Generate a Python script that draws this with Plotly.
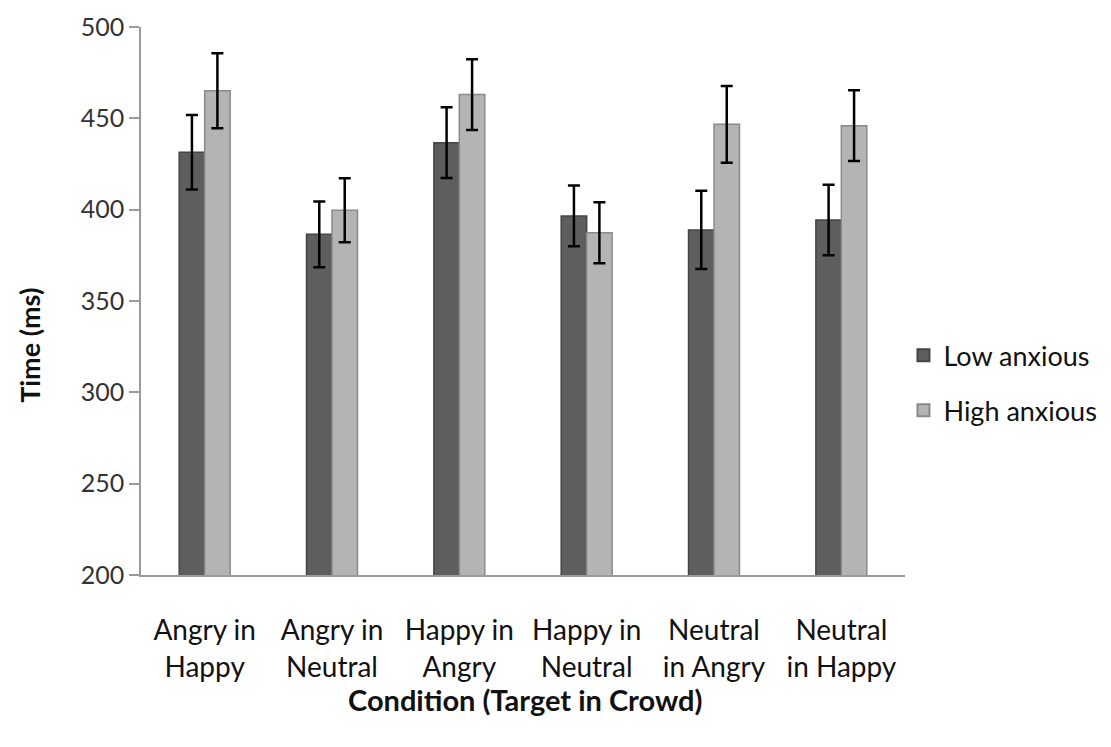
import plotly.graph_objects as go

categories = ["Angry in<br>Happy", "Angry in<br>Neutral", "Happy in<br>Angry",
              "Happy in<br>Neutral", "Neutral<br>in Angry", "Neutral<br>in Happy"]
low_anxious = [431.4, 386.5, 436.7, 396.6, 388.9, 394.4]
low_err = [20.4, 18.0, 19.4, 16.6, 21.4, 19.3]
high_anxious = [465.1, 399.7, 463.0, 387.4, 446.7, 446.0]
high_err = [20.5, 17.5, 19.4, 16.7, 21.0, 19.4]
y_ticks = [200, 250, 300, 350, 400, 450, 500]

FONT = "Lato, Open Sans, sans-serif"

fig = go.Figure()
fig.add_trace(go.Bar(
    name="Low anxious", x=categories, y=low_anxious, legendgroup="low",
    marker=dict(color="#5e5e5e", line=dict(color="#454545", width=1.5)),
    error_y=dict(type="data", array=low_err, color="#000000", thickness=2.5, width=6),
))
fig.add_trace(go.Bar(
    name="High anxious", x=categories, y=high_anxious, legendgroup="high",
    marker=dict(color="#b4b4b4", line=dict(color="#8a8a8a", width=1.5)),
    error_y=dict(type="data", array=high_err, color="#000000", thickness=2.5, width=6),
))

fig.update_layout(
    width=1095, height=731,
    margin=dict(l=133, r=198, t=19, b=164, autoexpand=False),
    paper_bgcolor="white", plot_bgcolor="white",
    barmode="group", bargap=0.6, bargroupgap=0,
    font=dict(family=FONT, size=22, color="#222222"),
    legend=dict(x=0.998, y=0.35, xanchor="left", yanchor="middle",
                font=dict(family=FONT, size=27, color="#111111"),
                traceorder="grouped", itemsizing="constant", tracegroupgap=17,
                bgcolor="rgba(0,0,0,0)"),
    showlegend=True,
    annotations=[
        dict(text="<b>Time (ms)</b>", xref="paper", yref="paper", x=-0.1453, y=0.42,
             textangle=-90, showarrow=False, xanchor="center", yanchor="middle",
             font=dict(family=FONT, size=27, color="#111111")),
        dict(text="<b>Condition (Target in Crowd)</b>", xref="paper", yref="paper", x=0.503, y=-0.228,
             showarrow=False, xanchor="center", yanchor="middle",
             font=dict(family=FONT, size=29, color="#111111")),
    ],
)
fig.update_yaxes(
    range=[200, 500], tickvals=y_ticks, showgrid=False, zeroline=False,
    showline=True, linecolor="#9a9a9a", linewidth=1.5,
    ticks="outside", ticklen=10, tickcolor="#9a9a9a", tickwidth=1.5,
    tickfont=dict(family=FONT, size=25, color="#333333"), automargin=False,
)
fig.update_xaxes(
    showgrid=False, showline=True, linecolor="#9a9a9a", linewidth=1.5,
    ticks="", ticklabelstandoff=30, automargin=False,
    tickfont=dict(family=FONT, size=28, color="#111111"),
)

fig.write_html("out.html")
